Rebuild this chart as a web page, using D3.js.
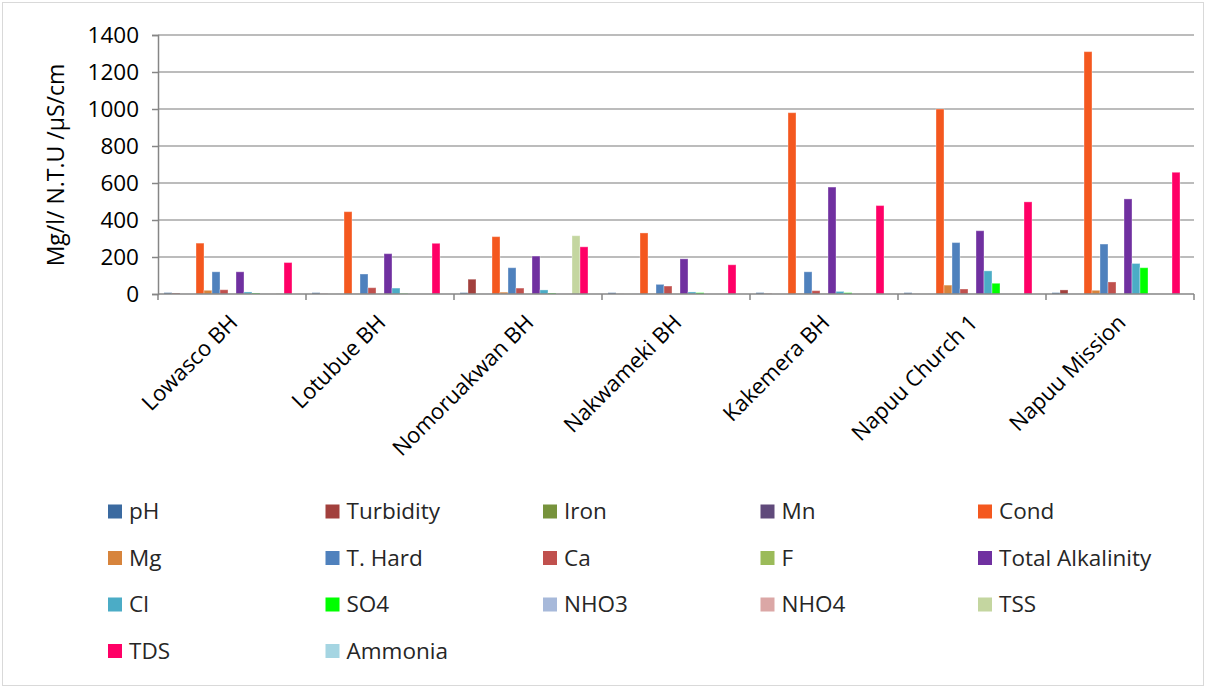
<!DOCTYPE html>
<html>
<head>
<meta charset="utf-8">
<script src="https://cdn.jsdelivr.net/npm/d3@7"></script>
<style>
  html, body { margin: 0; padding: 0; background: #fff; }
  svg { display: block; font-family: "Open Sans", "Noto Sans", sans-serif; }
</style>
</head>
<body>
<svg id="chart" width="1206" height="688"></svg>
<script>
// Sampling sites along the x axis
const sites = ["Lowasco BH", "Lotubue BH", "Nomoruakwan BH", "Nakwameki BH",
               "Kakemera BH", "Napuu Church 1", "Napuu Mission"];

// Measured parameters (one bar per parameter in each site group)
const params = ["pH", "Turbidity", "Iron", "Mn", "Cond", "Mg", "T. Hard", "Ca", "F",
                "Total Alkalinity", "Cl", "SO4", "NHO3", "NHO4", "TSS", "TDS", "Ammonia"];

// Values per parameter, in site order
const pH              = [7.4, 7.2, 7.3, 7.1, 7.5, 7.2, 7.3];
const turbidity       = [5, 1, 80, 0.5, 2, 0.5, 22];
const iron            = [0.2, 0.1, 0.3, 0.1, 0.2, 0.1, 0.2];
const mn              = [0.1, 0.1, 0.1, 0.1, 0.1, 0.1, 0.1];
const cond            = [275, 445, 310, 330, 980, 1000, 1310];
const mg              = [20, 1, 10, 1, 2, 48, 20];
const tHard           = [120, 108, 142, 52, 120, 278, 270];
const ca              = [23, 34, 32, 43, 18, 27, 65];
const fluoride        = [0.5, 0.4, 0.6, 0.5, 0.8, 0.6, 0.7];
const totalAlkalinity = [120, 218, 205, 190, 578, 342, 514];
const cl              = [11, 32, 22, 11, 14, 125, 165];
const so4             = [5, 2, 5, 7, 7, 58, 142];
const nho3            = [0.5, 0.3, 0.4, 0.3, 0.5, 0.4, 0.6];
const nho4            = [0.2, 0.1, 0.2, 0.1, 0.2, 0.1, 0.2];
const tss             = [2, 0, 315, 0, 0, 0, 0];
const tds             = [170, 274, 255, 158, 478, 498, 658];
const ammonia         = [0.1, 0.1, 0.1, 0.1, 0.1, 0.1, 0.1];

const seriesValues = [pH, turbidity, iron, mn, cond, mg, tHard, ca, fluoride,
                      totalAlkalinity, cl, so4, nho3, nho4, tss, tds, ammonia];

const colors = ["#3b6aa0", "#a2403d", "#77933c", "#604a7b", "#f4581f", "#d7843c",
                "#4f81bd", "#c0504d", "#9bbb59", "#7030a0", "#4bacc6", "#00ff00",
                "#a7b9da", "#dba7a6", "#c4d6a0", "#ff0066", "#a5d5e2"];

const yTicks = [0, 200, 400, 600, 800, 1000, 1200, 1400];

const svg = d3.select("#chart");

// Outer chart frame
svg.append("rect")
  .attr("x", 2.5).attr("y", 2.5).attr("width", 1201).attr("height", 683)
  .attr("fill", "#fff").attr("stroke", "#d9d9d9").attr("stroke-width", 1);

const plot = { left: 158, right: 1194, top: 35, bottom: 294 };

const x0 = d3.scaleBand().domain(sites).range([plot.left, plot.right]).padding(0);
const cw = x0.bandwidth();
const barW = cw / (params.length + 1.5);
const x1 = d3.scaleBand().domain(params)
  .range([barW * 0.75, cw - barW * 0.75]).padding(0);
const y = d3.scaleLinear().domain([0, 1400]).range([plot.bottom, plot.top]);

// Horizontal gridlines
svg.append("g")
  .selectAll("line")
  .data(yTicks.filter(d => d > 0))
  .join("line")
  .attr("x1", plot.left).attr("x2", plot.right)
  .attr("y1", d => y(d)).attr("y2", d => y(d))
  .attr("stroke", "#a6a6a6").attr("stroke-width", 1.5);

// Bars
const groups = svg.append("g")
  .selectAll("g")
  .data(sites)
  .join("g")
  .attr("transform", d => `translate(${x0(d)},0)`);

groups.selectAll("rect")
  .data((site, i) => params.map((p, k) => ({ p, k, v: seriesValues[k][i] })))
  .join("rect")
  .attr("x", d => x1(d.p))
  .attr("width", x1.bandwidth())
  .attr("y", d => y(d.v))
  .attr("height", d => y(0) - y(d.v))
  .attr("fill", d => colors[d.k])
  .attr("stroke", "rgba(255,255,255,0.35)")
  .attr("stroke-width", 1);

// Y axis
const yAxis = d3.axisLeft(y).tickValues(yTicks).tickSize(6).tickPadding(13)
  .tickFormat(d3.format("d"));
const gy = svg.append("g")
  .attr("transform", `translate(${plot.left},0)`)
  .call(yAxis);
gy.select(".domain").attr("stroke", "#868686").attr("stroke-width", 1.5);
gy.selectAll(".tick line").attr("stroke", "#868686").attr("stroke-width", 1.5);
gy.selectAll(".tick text")
  .attr("font-size", 22.5).attr("fill", "#000")
  .attr("font-family", "'Open Sans', sans-serif");

// X axis (category boundaries as ticks)
const gx = svg.append("g").attr("transform", `translate(0,${plot.bottom})`);
gx.append("line")
  .attr("x1", plot.left).attr("x2", plot.right)
  .attr("stroke", "#868686").attr("stroke-width", 1.5);
const bounds = sites.map(s => x0(s)).concat([plot.right]);
gx.selectAll("line.tk")
  .data(bounds)
  .join("line")
  .attr("class", "tk")
  .attr("x1", d => d).attr("x2", d => d)
  .attr("y1", 0).attr("y2", 6)
  .attr("stroke", "#868686").attr("stroke-width", 1.5);

gx.selectAll("text")
  .data(sites)
  .join("text")
  .attr("transform", d => `translate(${x0(d) + cw / 2 + 7},${30}) rotate(-45)`)
  .attr("text-anchor", "end")
  .attr("font-size", 22)
  .attr("fill", "#000")
  .text(d => d);

// Y axis title
svg.append("text")
  .attr("transform", `translate(64,165) rotate(-90)`)
  .attr("text-anchor", "middle")
  .attr("font-size", 23)
  .attr("fill", "#000")
  .text("Mg/l/ N.T.U /µS/cm");

// Legend: five columns
const legend = svg.append("g");
const colX = [108, 325.5, 543, 760.5, 978];
const rowY = [511.5, 558, 604.5, 651];
const items = legend.selectAll("g")
  .data(params)
  .join("g")
  .attr("transform", (d, i) => `translate(${colX[i % 5]},${rowY[Math.floor(i / 5)]})`);
items.append("rect")
  .attr("x", 0).attr("y", -7).attr("width", 14).attr("height", 14)
  .attr("fill", (d, i) => colors[i]);
items.append("text")
  .attr("x", 21).attr("y", 0).attr("dy", "0.35em")
  .attr("font-size", 22.5)
  .attr("fill", "#262626")
  .text(d => d);
</script>
</body>
</html>
